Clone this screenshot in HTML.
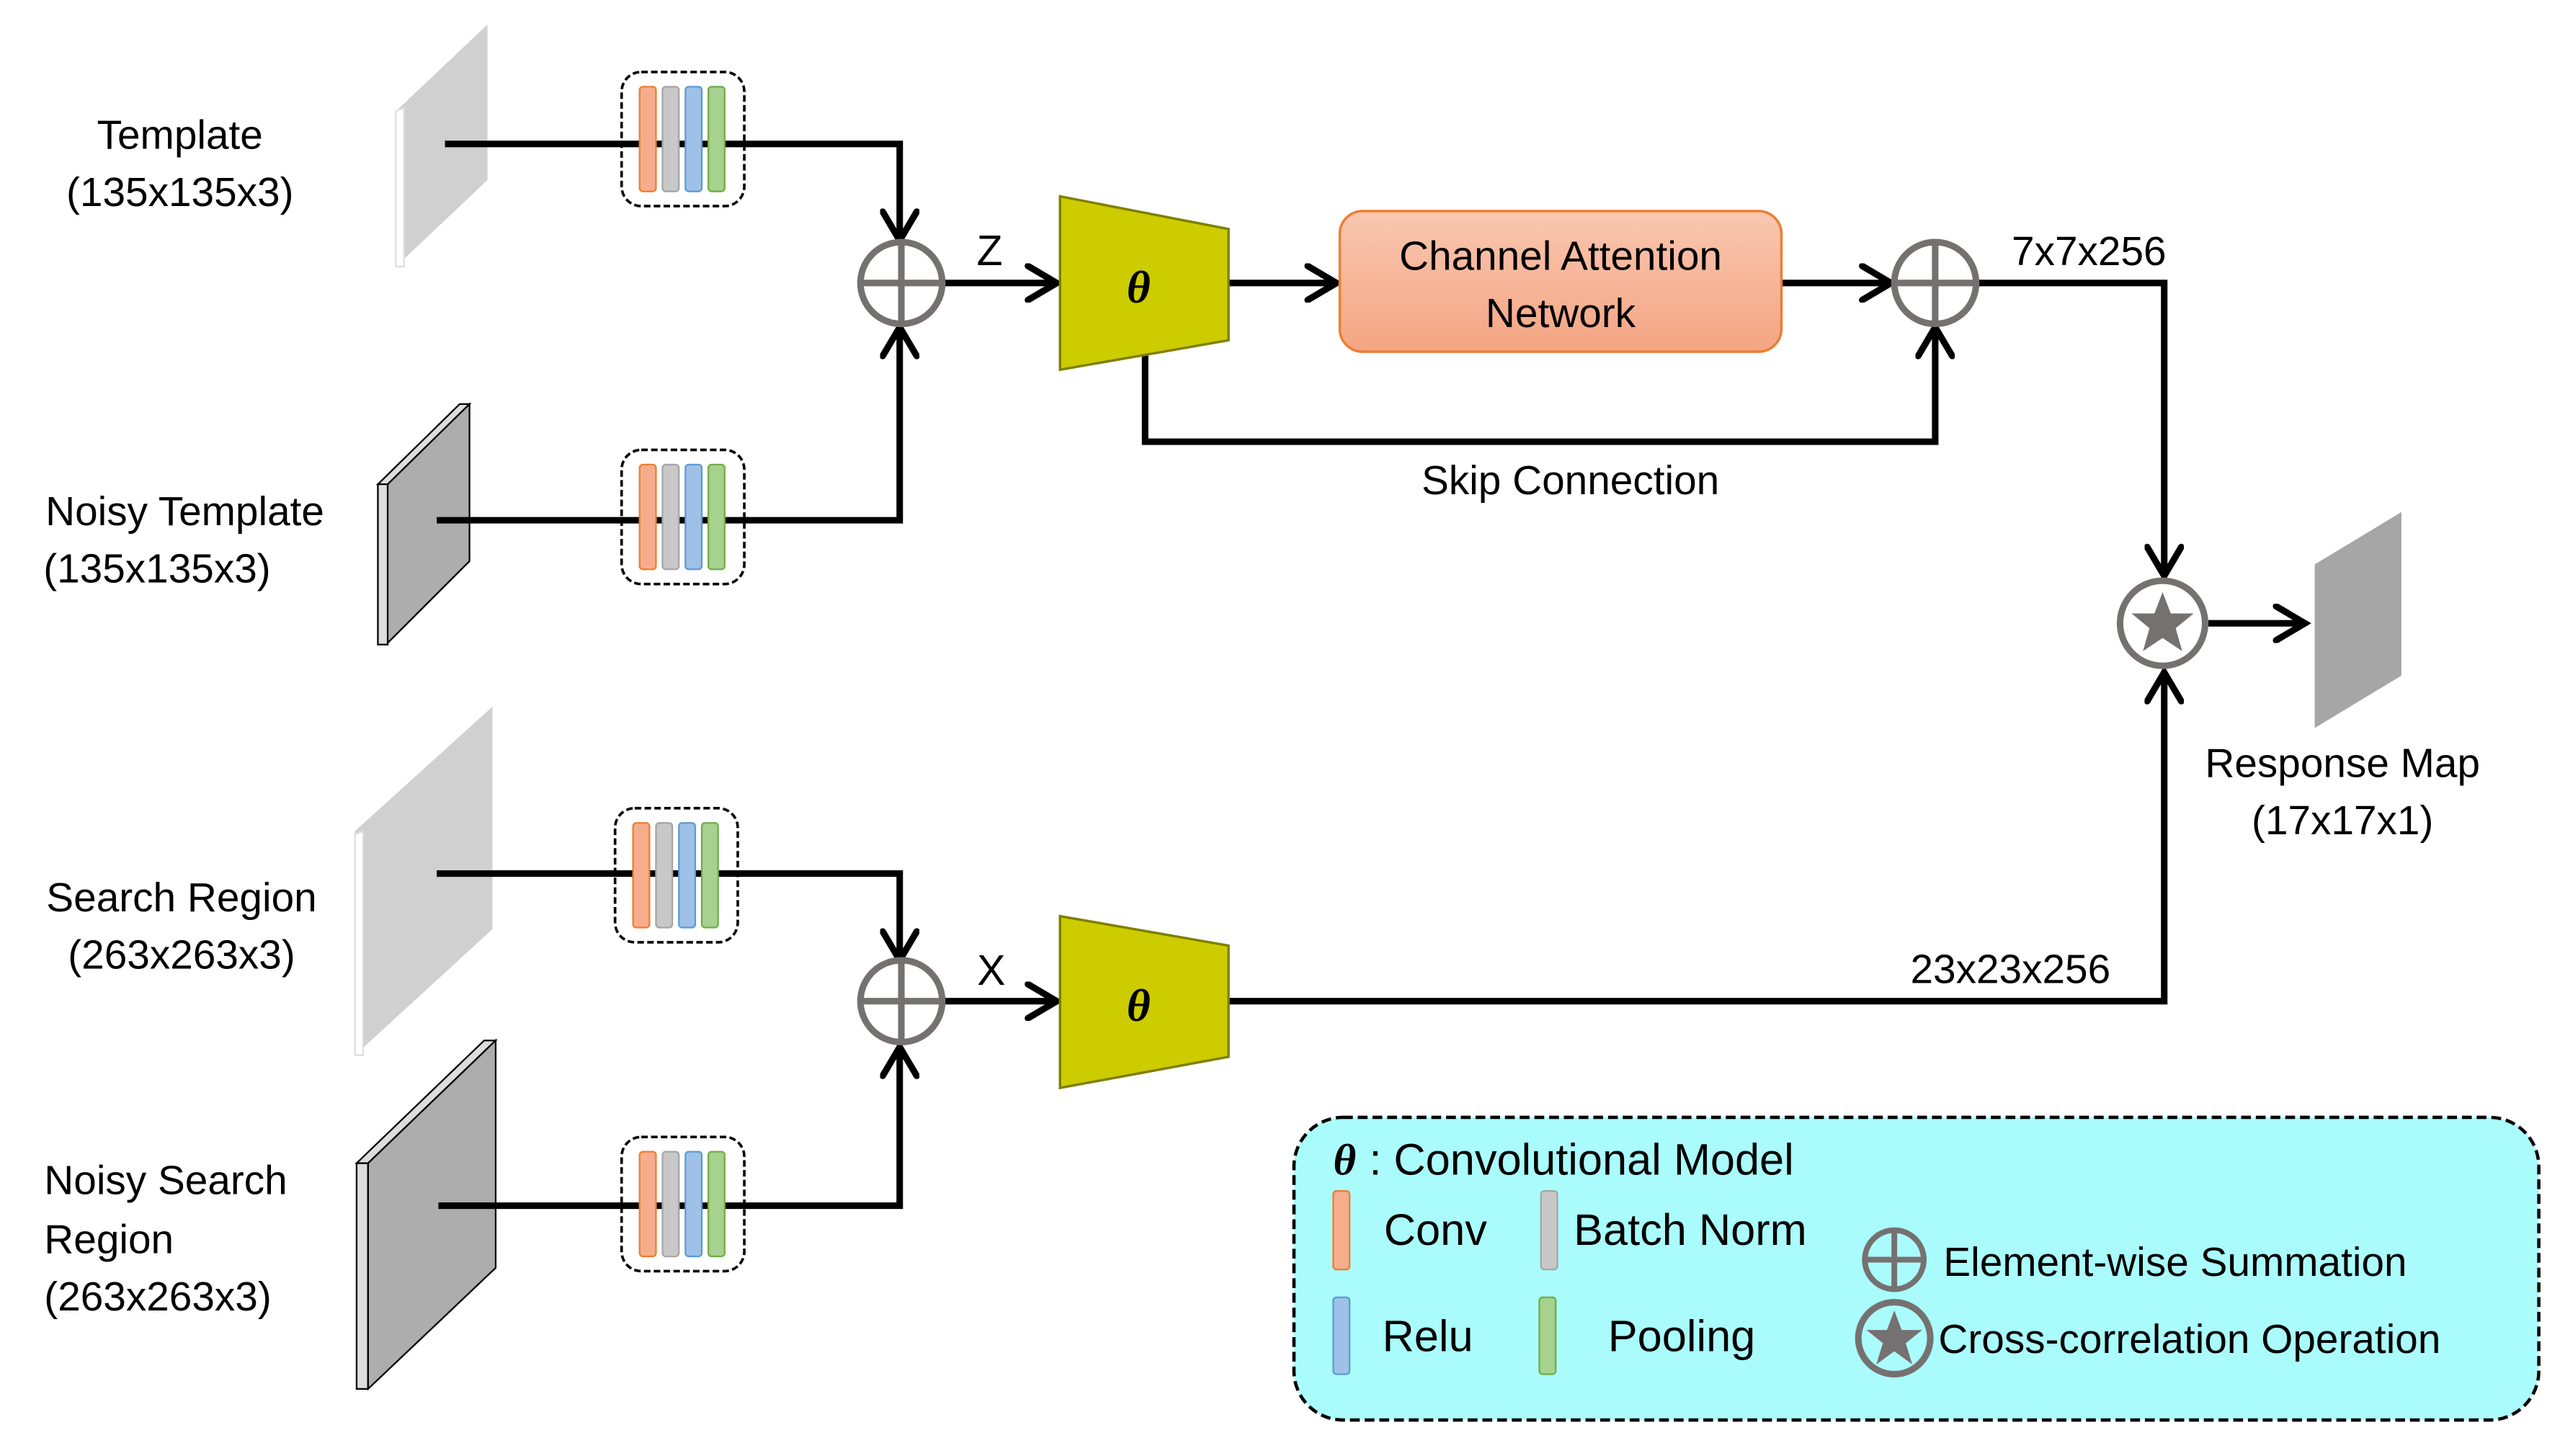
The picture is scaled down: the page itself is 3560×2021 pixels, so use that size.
<!DOCTYPE html>
<html><head><style>html,body{margin:0;padding:0;background:#fff}svg{display:block}</style></head>
<body>
<svg width="3560" height="2021" viewBox="0 0 1568 890" preserveAspectRatio="none" xmlns="http://www.w3.org/2000/svg" font-family="Liberation Sans, sans-serif">
<defs>
<marker id="a" markerWidth="6" markerHeight="6" refX="5" refY="3" orient="auto" markerUnits="strokeWidth">
<path d="M0.6,0.4 L5,3 L0.6,5.6" fill="none" stroke="#000" stroke-width="1" stroke-linecap="round"/>
</marker>
<linearGradient id="g" x1="0" y1="0" x2="0" y2="1"><stop offset="0" stop-color="#f9c7b0"/><stop offset="1" stop-color="#f4a583"/></linearGradient>
<g id="blk">
<rect x="0" y="0" width="75" height="82" rx="12" fill="none" stroke="#000" stroke-width="1.6" stroke-dasharray="4,2"/>
<rect x="11" y="9" width="10" height="64" rx="2" fill="#f6ad8c" stroke="#ed7d31" stroke-width="1"/>
<rect x="25" y="9" width="10" height="64" rx="2" fill="#c8c8c8" stroke="#a5a5a5" stroke-width="1"/>
<rect x="39" y="9" width="10" height="64" rx="2" fill="#9fc1e7" stroke="#5b9bd5" stroke-width="1"/>
<rect x="53" y="9" width="10" height="64" rx="2" fill="#a6d18e" stroke="#70ad47" stroke-width="1"/>
</g>
<g id="plus"><circle r="25" fill="#fff" stroke="#767171" stroke-width="4"/><path d="M-25,0H25M0,-25V25" stroke="#767171" stroke-width="4"/></g>
</defs>
<rect width="1568" height="890" fill="#fff"/>

<polygon points="242,68 298,15 298,110 242,163" fill="#d0d0d0"/>
<polygon points="242,68 247,66 247,163 242,163" fill="#fff" stroke="#ddd" stroke-width="1"/>
<polygon points="231,296 281,247 287,247 237,296" fill="#ddd" stroke="#000" stroke-width="1"/>
<rect x="231" y="296" width="6" height="98" fill="#ddd" stroke="#000" stroke-width="1"/>
<polygon points="237,296 287,247 287,343 237,393" fill="#adadad" stroke="#000" stroke-width="1"/>
<polygon points="217,508 301,432 301,568 217,645" fill="#d0d0d0"/>
<polygon points="217,510 222,508 222,645 217,645" fill="#fff" stroke="#ddd" stroke-width="1"/>
<rect x="218" y="711" width="7" height="138" fill="#ddd" stroke="#000" stroke-width="1"/>
<polygon points="218,711 296,636 303,636 225,711" fill="#ddd" stroke="#000" stroke-width="1"/>
<polygon points="225,711 303,636 303,775 225,849" fill="#adadad" stroke="#000" stroke-width="1"/>
<polygon points="1415,345 1468,313 1468,413 1415,445" fill="#a6a6a6"/>

<g fill="none" stroke="#000" stroke-width="4">
<path d="M272,88H550V147" marker-end="url(#a)"/>
<path d="M267,318H550V200" marker-end="url(#a)"/>
<path d="M577,173H646" marker-end="url(#a)"/>
<path d="M751,173H817" marker-end="url(#a)"/>
<path d="M1089,173H1156" marker-end="url(#a)"/>
<path d="M700,208V270H1183V200" marker-end="url(#a)"/>
<path d="M1209,173H1323V352" marker-end="url(#a)"/>
<path d="M1350,381H1409" marker-end="url(#a)"/>
<path d="M267,534H550V587" marker-end="url(#a)"/>
<path d="M268,737H550V640" marker-end="url(#a)"/>
<path d="M577,612H646" marker-end="url(#a)"/>
<path d="M751,612H1323V411" marker-end="url(#a)"/>
</g>

<use href="#blk" x="380" y="44"/>
<use href="#blk" x="380" y="275"/>
<use href="#blk" x="376" y="494"/>
<use href="#blk" x="380" y="695"/>

<use href="#plus" x="551" y="173"/>
<use href="#plus" x="1183" y="173"/>
<use href="#plus" x="551" y="612"/>

<circle cx="1322" cy="381" r="26" fill="#fff" stroke="#767171" stroke-width="4"/>
<polygon points="1322,362 1327,375 1341,375 1330,384 1334,398 1322,390 1310,398 1314,384 1303,375 1317,375" fill="#767171"/>

<polygon points="648,120 751,140 751,208 648,226" fill="#cccc00" stroke="#7f7f00" stroke-width="1.5"/>
<polygon points="648,560 751,578 751,646 648,665" fill="#cccc00" stroke="#7f7f00" stroke-width="1.5"/>
<text x="696" y="185" font-family="Liberation Serif, serif" font-style="italic" font-weight="bold" font-size="28" text-anchor="middle">θ</text>
<text x="696" y="624" font-family="Liberation Serif, serif" font-style="italic" font-weight="bold" font-size="28" text-anchor="middle">θ</text>

<rect x="819" y="129" width="270" height="86" rx="14" fill="url(#g)" stroke="#ed7d31" stroke-width="1.5"/>

<g font-size="25" text-anchor="middle" fill="#000">
<text x="954" y="165">Channel Attention</text>
<text x="954" y="200">Network</text>
<text x="110" y="91">Template</text>
<text x="110" y="126">(135x135x3)</text>
<text x="113" y="321">Noisy Template</text>
<text x="96" y="356">(135x135x3)</text>
<text x="111" y="557">Search Region</text>
<text x="111" y="592">(263x263x3)</text>
<text x="960" y="302">Skip Connection</text>
<text x="1277" y="162">7x7x256</text>
<text x="1229" y="601">23x23x256</text>
<text x="1432" y="475">Response Map</text>
<text x="1432" y="510">(17x17x1)</text>
<text x="605" y="162" font-size="26">Z</text>
<text x="606" y="602" font-size="26">X</text>
</g>
<g font-size="25" fill="#000">
<text x="27" y="730">Noisy Search</text>
<text x="27" y="766">Region</text>
<text x="27" y="801">(263x263x3)</text>
</g>

<rect x="791" y="683" width="761" height="185" rx="30" fill="#aafcfc" stroke="#000" stroke-width="2" stroke-dasharray="6,3"/>
<text x="815" y="718" font-family="Liberation Serif, serif" font-style="italic" font-weight="bold" font-size="27">θ</text>
<text x="837" y="718" font-size="27">: Convolutional Model</text>
<rect x="815" y="728" width="10" height="48" rx="2" fill="#f6ad8c" stroke="#ed7d31"/>
<rect x="942" y="728" width="10" height="48" rx="2" fill="#c8c8c8" stroke="#a5a5a5"/>
<rect x="815" y="793" width="10" height="47" rx="2" fill="#9fc1e7" stroke="#5b9bd5"/>
<rect x="941" y="793" width="10" height="47" rx="2" fill="#a6d18e" stroke="#70ad47"/>
<g font-size="27">
<text x="846" y="761">Conv</text>
<text x="962" y="761">Batch Norm</text>
<text x="845" y="826">Relu</text>
<text x="983" y="826">Pooling</text>
</g>
<circle cx="1158" cy="770" r="18" fill="none" stroke="#767171" stroke-width="3.5"/>
<path d="M1140,770H1176M1158,752V788" stroke="#767171" stroke-width="3.5"/>
<circle cx="1158" cy="818" r="22" fill="none" stroke="#767171" stroke-width="4"/>
<polygon points="1158,801 1162.5,813 1175,813 1165,821 1169,834 1158,826 1147,834 1151,821 1141,813 1153.5,813" fill="#767171"/>
<g font-size="25">
<text x="1188" y="780">Element-wise Summation</text>
<text x="1185" y="827">Cross-correlation Operation</text>
</g>
</svg>
</body></html>
